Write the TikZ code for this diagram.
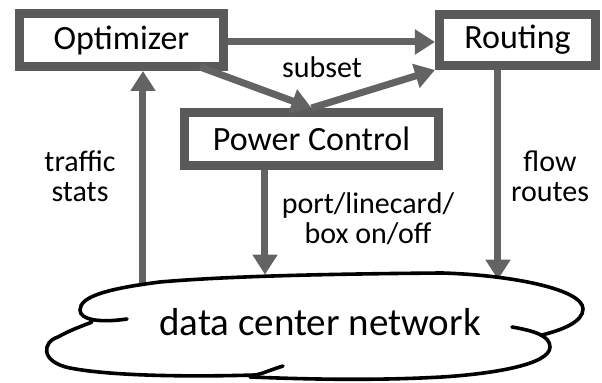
\documentclass[tikz,border=0pt]{standalone}
\usepackage{fontspec}
\setmainfont{Carlito}
\usetikzlibrary{arrows.meta}
\definecolor{boxgray}{HTML}{5A5A5A}
\definecolor{arrowgray}{HTML}{636363}

\begin{document}
\begin{tikzpicture}[x=0.5pt,y=-0.5pt,
        module/.style={draw=boxgray,line width=4.5pt,fill=white,inner sep=0pt,font=\fontsize{17}{19}\selectfont},
        flow/.style={draw=arrowgray,line width=3.5pt,-{Triangle[width=12pt,length=10pt]}},
        lbl/.style={font=\fontsize{15}{15}\selectfont,align=center},
        cloudline/.style={line width=1.8pt,line cap=round}]
    \useasboundingbox (0,0) rectangle (602,383);
    \node[module,minimum width=102pt,minimum height=26.5pt] (opt) at (121.5,40) {Optimizer};
    \node[module,minimum width=78pt,minimum height=25.5pt] (rout) at (517.5,40) {Routing};
    \node[module,minimum width=127pt,minimum height=26.5pt] (pc) at (311.5,139) {Power Control};
    \node[font=\fontsize{19.5}{22}\selectfont,inner sep=0pt,minimum height=45pt] (net) at (320,322) {data center network};

    \node[lbl] (subset) at (322,67) {subset};
    \node[lbl] (traffic) at (80,176) {traffic\\stats};
    \node[lbl] (routes) at (550,176) {flow\\routes};
    \node[lbl] (onoff) at (368,219) {port/linecard/\\box on/off};

    \draw[flow] ([yshift=-1pt]opt.east) -- ([yshift=-1pt]opt.east -| rout.west);
    \draw[flow] ([xshift=-14pt,yshift=2pt]opt.south east) -- (pc.north);
    \draw[flow] (pc.north) -- (rout.south west);

    \coordinate (pcout) at ([xshift=-23.25pt]pc.south);
    \coordinate (routout) at ([xshift=-9.75pt]rout.south);
    \coordinate (optin) at ([xshift=10.75pt]opt.south);
    \draw[flow] (pcout) -- ([yshift=1pt]pcout |- net.north);
    \draw[flow] (routout) -- ([yshift=-1.5pt]routout |- net.north);
    \draw[flow] ([yshift=-3pt]optin |- net.north) -- (optin);

    \draw[cloudline] (127,319) .. controls (100,323) and (80,320) .. (80,310)
        .. controls (80,297) and (105,289) .. (160,282)
        .. controls (230,276) and (330,274) .. (442,273)
        .. controls (510,275) and (583,289) .. (583,309)
        .. controls (583,322) and (562,330) .. (542,335);
    \draw[cloudline] (512,327) .. controls (535,331) and (550,336) .. (550,347)
        .. controls (550,365) and (490,374) .. (442,377)
        .. controls (370,381) and (300,379) .. (250,377);
    \draw[cloudline] (283,366) .. controls (270,370) and (262,374) .. (255,375)
        .. controls (190,377) and (110,376) .. (70,368)
        .. controls (40,362) and (42,342) .. (58,337)
        .. controls (70,330) and (85,325) .. (92,322);
\end{tikzpicture}
\end{document}
